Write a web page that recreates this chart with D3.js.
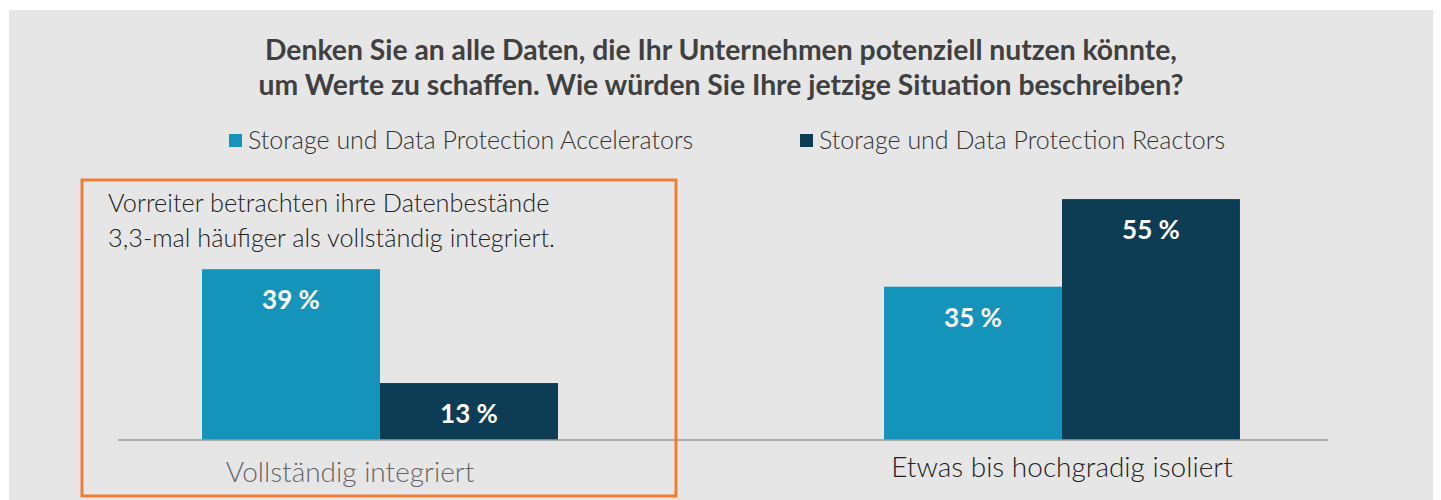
<!DOCTYPE html>
<html>
<head>
<meta charset="utf-8">
<script src="https://cdn.jsdelivr.net/npm/d3@7"></script>
<style>
  body { margin: 0; background: #fff; }
  svg text { font-family: "Source Sans Pro", "Lato", sans-serif; }
</style>
</head>
<body>
<svg id="chart" width="1441" height="500"></svg>
<script>
const categories = ["Vollständig integriert", "Etwas bis hochgradig isoliert"];
const seriesNames = ["Storage und Data Protection Accelerators", "Storage und Data Protection Reactors"];
const accelerators = [39, 35];
const reactors = [13, 55];
const titleLines = [
  "Denken Sie an alle Daten, die Ihr Unternehmen potenziell nutzen könnte,",
  "um Werte zu schaffen. Wie würden Sie Ihre jetzige Situation beschreiben?"
];
const noteLines = [
  "Vorreiter betrachten ihre Datenbestände",
  "3,3-mal häufiger als vollständig integriert."
];

const colors = ["#1594bb", "#0d3c55"];
const svg = d3.select("#chart");

// grey panel
svg.append("rect")
  .attr("x", 9).attr("y", 10)
  .attr("width", 1424).attr("height", 490)
  .attr("fill", "#e6e6e6");

// title
svg.append("g").selectAll("text")
  .data(titleLines)
  .enter().append("text")
  .attr("x", 721)
  .attr("y", (d, i) => 60 + i * 35)
  .attr("text-anchor", "middle")
  .style("font-size", "28.3px")
  .style("font-weight", "bold")
  .attr("fill", "#404040")
  .text(d => d);

// legend
const legendX = [229, 800];
const legend = svg.append("g").selectAll("g")
  .data(seriesNames)
  .enter().append("g")
  .attr("transform", (d, i) => `translate(${legendX[i]}, 134)`);
legend.append("rect")
  .attr("width", 13).attr("height", 13)
  .attr("fill", (d, i) => colors[i]);
legend.append("text")
  .attr("x", 19).attr("y", 15)
  .style("font-size", "25px")
  .style("font-weight", 300)
  .attr("fill", "#333")
  .text(d => d);

// scales
const baseY = 440;
const x0 = d3.scaleBand().domain(categories).range([39, 1403]);
const x1 = d3.scaleBand().domain([0, 1]).range([0, x0.bandwidth()]).paddingOuter(0.916);
const y = d3.scaleLinear().domain([0, 100]).range([baseY, 2]);

const data = categories.map((c, i) => ({ cat: c, values: [accelerators[i], reactors[i]] }));

const groups = svg.append("g").selectAll("g")
  .data(data)
  .enter().append("g")
  .attr("transform", d => `translate(${x0(d.cat)},0)`);

groups.selectAll("rect")
  .data(d => d.values)
  .enter().append("rect")
  .attr("x", (d, i) => x1(i))
  .attr("y", d => y(d))
  .attr("width", x1.bandwidth())
  .attr("height", d => baseY - y(d))
  .attr("fill", (d, i) => colors[i]);

groups.selectAll(".val")
  .data(d => d.values)
  .enter().append("text")
  .attr("class", "val")
  .attr("x", (d, i) => x1(i) + x1.bandwidth() / 2)
  .attr("y", d => y(d) + 40)
  .attr("text-anchor", "middle")
  .style("font-size", "26px")
  .style("font-weight", "bold")
  .attr("fill", "#fff")
  .text(d => `${d} %`);

// baseline
svg.append("line")
  .attr("x1", 118).attr("x2", 1328)
  .attr("y1", baseY).attr("y2", baseY)
  .attr("stroke", "#999").attr("stroke-width", 1.5);

// category labels
svg.append("g").selectAll("text")
  .data(categories)
  .enter().append("text")
  .attr("x", d => x0(d) + x0.bandwidth() / 2 + (d === categories[0] ? -30 : 0))
  .attr("y", (d, i) => i === 0 ? 482 : 477)
  .attr("text-anchor", "middle")
  .style("font-size", "28px")
  .style("font-weight", 300)
  .attr("fill", (d, i) => i === 0 ? "#666" : "#222")
  .text(d => d);

// highlight box + note
svg.append("rect")
  .attr("x", 82).attr("y", 180)
  .attr("width", 594).attr("height", 316)
  .attr("fill", "none")
  .attr("stroke", "#ef7d32")
  .attr("stroke-width", 3);

svg.append("g").selectAll("text")
  .data(noteLines)
  .enter().append("text")
  .attr("x", 108)
  .attr("y", (d, i) => 212 + i * 35)
  .style("font-size", "25.3px")
  .style("font-weight", 300)
  .attr("fill", "#222")
  .text(d => d);
</script>
</body>
</html>
